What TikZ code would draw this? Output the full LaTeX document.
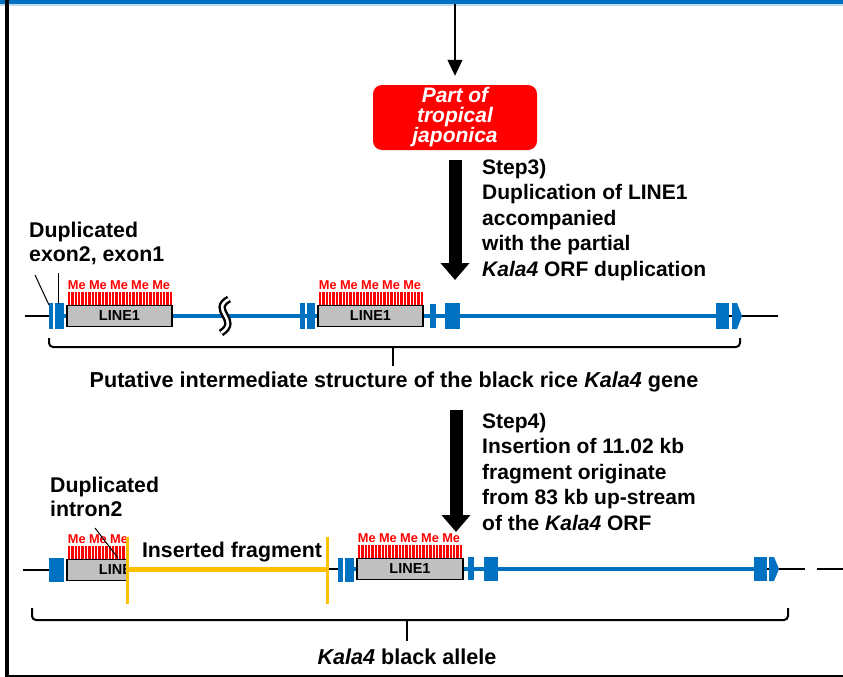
\documentclass[tikz,border=0pt]{standalone}
\usepackage{fontspec}
\setmainfont{Liberation Sans}
\usetikzlibrary{arrows.meta, calc, positioning}
\definecolor{geneblue}{HTML}{0070C0}
\definecolor{methred}{HTML}{FF0000}
\definecolor{fraggold}{HTML}{FFC000}
\definecolor{linegray}{HTML}{C0C0C0}
\tikzset{
    line box/.style={
        draw=black,
        line width=1.6pt,
        fill=linegray,
        inner sep=0pt,
        minimum height=21pt,
        font=\fontsize{14.5}{16}\selectfont\bfseries
    },
    me label/.style={
        text=methred,
        inner sep=0pt,
        font=\fontsize{12.8}{14}\selectfont\bfseries
    },
    big text/.style={
        inner sep=0pt,
        align=left,
        font=\fontsize{21}{25.5}\selectfont\bfseries
    },
    caption text/.style={
        inner sep=0pt,
        font=\fontsize{21.6}{25}\selectfont\bfseries
    },
    exon/.style={fill=geneblue},
    intron/.style={geneblue, line width=4.5pt},
    flank/.style={black, line width=2.2pt},
    leader/.style={black, line width=1pt},
    bracket/.style={black, line width=2pt, rounded corners=4pt},
    step arrow/.style={line width=13pt, -{Triangle[length=17pt, width=28pt]}},
    thin arrow/.style={line width=1.3pt, -{Triangle[length=16pt, width=15pt]}}
}
% one LINE1 copy with its methylation ticks: name, left x, right x, centre y, last Me index
\newcommand{\lineunit}[5]{%
    \pgfmathsetmacro{\boxw}{#3-#2}
    \pgfmathtruncatemacro{\nbar}{(#3-#2-3)/3.4}
    \foreach \b in {0,...,\nbar}
        \draw[methred, line width=2.3pt] ({#2+2+\b*3.4},#4-10) -- ++(0,-14.5);
    \node[line box, minimum width=\boxw pt] (#1) at ({(#2+#3)/2},#4) {LINE1};
    \foreach \k in {0,...,#5}
        \node[me label] (#1-me\k) at ({#2+9.8+\k*21.1},#4-31) {Me};
}
\begin{document}
\begin{tikzpicture}[x=1pt, y=-1pt]
    \useasboundingbox (0,0) rectangle (843,677);
    \fill[white] (0,0) rectangle (843,677);

    % Frame
    \fill[geneblue] (0,0) rectangle (843,4.5);
    \fill[geneblue!25] (0,4.5) rectangle (843,6);
    \fill[black] (4.5,0) rectangle (9,677);
    \draw[black, line width=2pt] (4.5,676) -- (843,676);

    % Origin box
    \coordinate (topin) at (455,4.5);
    \node[fill=methred, rounded corners=9pt, minimum width=164pt, minimum height=65pt,
          text=white, align=center, inner sep=0pt,
          font=\fontsize{21}{19.5}\selectfont\bfseries\itshape] (japonica) at (455,117.5)
          {Part of\\tropical\\japonica};
    \draw[thin arrow, shorten >=9pt] (topin) -- (japonica);

    % Step 3
    \coordinate (s3top) at (455,160);
    \coordinate (s3tip) at (455,280);
    \draw[step arrow] (s3top) -- (s3tip);
    \node[big text, anchor=north west] (step3) at (482,159)
        {Step3)\\Duplication of LINE1\\accompanied\\with the partial\\\textit{Kala4} ORF duplication};

    % Intermediate structure
    \draw[flank] (25,316) -- (49,316);
    \draw[flank] (728,316) -- (778,316);
    \draw[intron] (62,316) -- (70,316);
    \draw[intron] (170,316) -- (320,316);
    \draw[intron] (421,316) -- (717,316);
    \draw[double=white, double distance=2.6pt, line width=2.4pt]
        (229,299) .. controls (209,310) and (241,320) .. (221,333);
    \fill[exon] (49,303) rectangle (53,329);
    \fill[exon] (55,303) rectangle (64,329);
    \fill[exon] (300,303) rectangle (305,329);
    \fill[exon] (307,303) rectangle (315,329);
    \fill[exon] (430,304) rectangle (436,328);
    \fill[exon] (445,303) rectangle (460,329);
    \fill[exon] (716,303) rectangle (729,329);
    \fill[exon] (732,303) -- (737,303) -- (742,316) -- (737,329) -- (732,329) -- cycle;
    \lineunit{lineA}{67}{172}{316}{4}
    \lineunit{lineB}{318}{423}{316}{4}

    \node[big text, font=\fontsize{21.3}{24}\selectfont\bfseries, anchor=north west] (dupexon) at (29,222)
        {Duplicated\\exon2, exon1};
    \coordinate (exonA) at (49,305);
    \coordinate (exonB) at (58,304);
    \draw[leader] (35,275) -- (exonA);
    \draw[leader] (58,273) -- (exonB);

    \draw[bracket] (49,338) -- (49,347) -- (740,347) -- (740,338);
    \node[caption text] (capA) at (394,382)
        {Putative intermediate structure of the black rice \textit{Kala4} gene};
    \draw[black, line width=2pt] (393,347) -- (393,366);

    % Step 4
    \coordinate (s4top) at (456,410);
    \coordinate (s4tip) at (456,532);
    \draw[step arrow] (s4top) -- (s4tip);
    \node[big text, anchor=north west] (step4) at (482,413)
        {Step4)\\Insertion of 11.02 kb\\fragment originate\\from 83 kb up-stream\\of the \textit{Kala4} ORF};

    % Black allele
    \draw[flank] (23,570) -- (49,570);
    \draw[flank] (327,569) -- (340,569);
    \draw[intron] (352,569) -- (360,569);
    \draw[intron] (461,569) -- (755,569);
    \draw[flank] (766,569) -- (805,569);
    \draw[flank] (817,569) -- (843,569);
    \fill[exon] (49,558) rectangle (64,582);
    \fill[exon] (338,558) rectangle (343,582);
    \fill[exon] (345,558) rectangle (354,582);
    \fill[exon] (468,557) rectangle (474,580);
    \fill[exon] (484,557) rectangle (498,581);
    \fill[exon] (754,557) rectangle (767,581);
    \fill[exon] (769,557) -- (774,557) -- (779,569) -- (774,581) -- (769,581) -- cycle;
    \begin{scope}
        \clip (60,520) rectangle (128.5,600);
        \lineunit{lineC}{67}{172}{570}{2}
    \end{scope}
    \lineunit{lineD}{357}{463}{569}{4}

    % Inserted fragment
    \draw[fraggold, line width=5pt] (127,569) -- (327,569);
    \draw[fraggold, line width=3pt] (127,537) -- (127,604);
    \draw[fraggold, line width=3pt] (327,537) -- (327,604);
    \node[caption text, font=\fontsize{21.3}{24}\selectfont\bfseries] (insfrag) at (232,552) {Inserted fragment};

    \node[big text, font=\fontsize{21.3}{24}\selectfont\bfseries, anchor=north west] (dupintron) at (50,477)
        {Duplicated\\intron2};
    \coordinate (intronA) at (118,558);
    \draw[leader] (95,528) -- (intronA);

    \draw[bracket] (32,608) -- (32,620) -- (788,620) -- (788,608);
    \node[caption text] (capB) at (407,657) {\textit{Kala4} black allele};
    \draw[black, line width=2pt] (407,620) -- (407,641);
\end{tikzpicture}
\end{document}
